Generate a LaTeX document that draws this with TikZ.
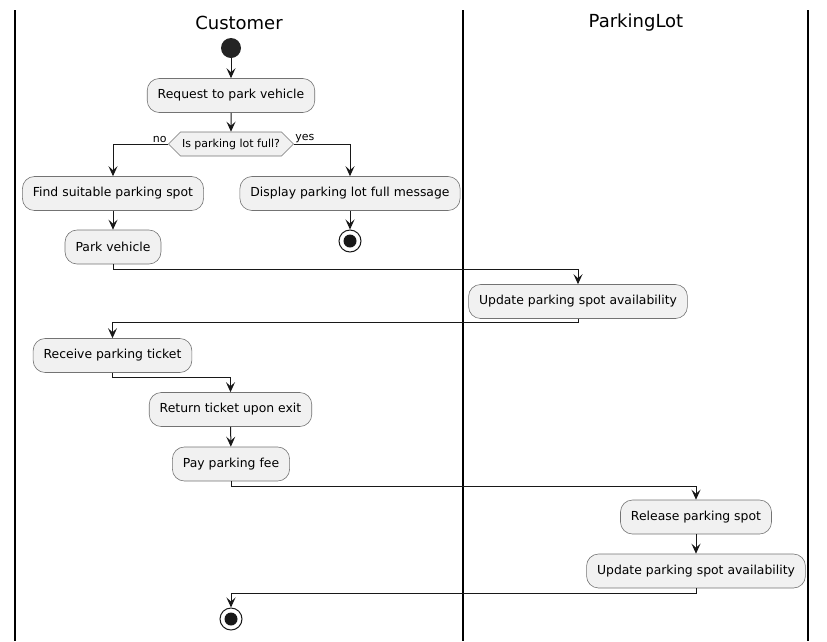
\documentclass[tikz,border=0pt]{standalone}
\usepackage{fontspec}
\setmainfont{DejaVu Sans}
\usepackage{tikz}
\usetikzlibrary{arrows.meta, shapes.symbols, positioning}

\definecolor{actfill}{HTML}{F1F1F1}
\definecolor{ink}{HTML}{181818}

\begin{document}
\begin{tikzpicture}[
    x=1pt, y=-1pt,
    >={Stealth[length=10pt, width=9pt, inset=4pt]},
    % Activity boxes
    act/.style={
        rectangle, rounded corners=12pt, draw=black!55, line width=0.6pt,
        fill=actfill, minimum height=34pt, inner xsep=10.5pt,
        font=\fontsize{12.4}{14}\selectfont
    },
    % Decision hexagon
    decision/.style={
        signal, signal to=east and west, signal pointer angle=90,
        draw=black!55, line width=0.6pt, fill=actfill,
        minimum height=24pt, inner xsep=1.5pt, inner ysep=0pt,
        font=\fontsize{11}{13}\selectfont
    },
    % Start / stop markers
    startdot/.style={circle, fill=ink!95, minimum size=20pt, inner sep=0pt},
    stopdot/.style={
        circle, draw=ink, line width=1pt, fill=white,
        minimum size=22pt, inner sep=0pt,
        path picture={\fill[ink] (path picture bounding box.center) circle (6.5pt);}
    },
    % Connectors
    flow/.style={->, draw=ink, line width=1pt},
    % Branch labels
    branch/.style={font=\fontsize{11}{13}\selectfont, inner sep=1pt},
    % Swimlane
    lane/.style={draw=black, line width=1.4pt},
    header/.style={font=\fontsize{18}{20}\selectfont},
]

\useasboundingbox (0,0) rectangle (827,641);

% Column centers
\def\custx{231}
\def\lotx{696}

% Swimlanes
\draw[lane] (15,10) -- (15,641);
\draw[lane] (463,10) -- (463,641);
\draw[lane] (808,10) -- (808,641);
\node[header] (hcust) at (239,23) {Customer};
\node[header] (hlot) at (636,23) {ParkingLot};

% ===== Arrival =====
\node[startdot] (start) at (\custx,48) {};
\node[act] (req) at (\custx,95.5) {Request to park vehicle};
\node[decision] (full) at (\custx,144) {Is parking lot full?};

\node[act] (find) at (113,193.5) {Find suitable parking spot};
\node[act] (disp) at (350,193.5) {Display parking lot full message};
\node[stopdot] (stopA) at (350,241) {};
\node[act] (park) at (113,247) {Park vehicle};

\node[act] (updA) at (578,301.5) {Update parking spot availability};
\node[act] (recv) at (112.5,355.5) {Receive parking ticket};

% ===== Departure =====
\node[act] (ret) at (230.5,409.5) {Return ticket upon exit};
\node[act] (pay) at (\custx,464) {Pay parking fee};
\node[act] (rel) at (\lotx,517) {Release parking spot};
\node[act] (updB) at (\lotx,571) {Update parking spot availability};
\node[stopdot] (stopB) at (\custx,619) {};

% Flow
\draw[flow] (start) -- (req);
\draw[flow] (req) -- (full);
\draw[flow] (full.west) node[branch, anchor=south east] {no} -| (find.north);
\draw[flow] (full.east) node[branch, anchor=south west] {yes} -| (disp.north);
\draw[flow] (find) -- (park);
\draw[flow] (disp) -- (stopA);
\draw[flow] (park.south) -- ++(0,5) -| (updA.north);
\draw[flow] (updA.south) -- ++(0,4) -| (recv.north);
\draw[flow] (recv.south) -- ++(0,5) -| (ret.north);
\draw[flow] (ret) -- (pay);
\draw[flow] (pay.south) -- ++(0,5) -| (rel.north);
\draw[flow] (rel) -- (updB);
\draw[flow] (updB.south) -- ++(0,5) -| (stopB.north);

\end{tikzpicture}
\end{document}
